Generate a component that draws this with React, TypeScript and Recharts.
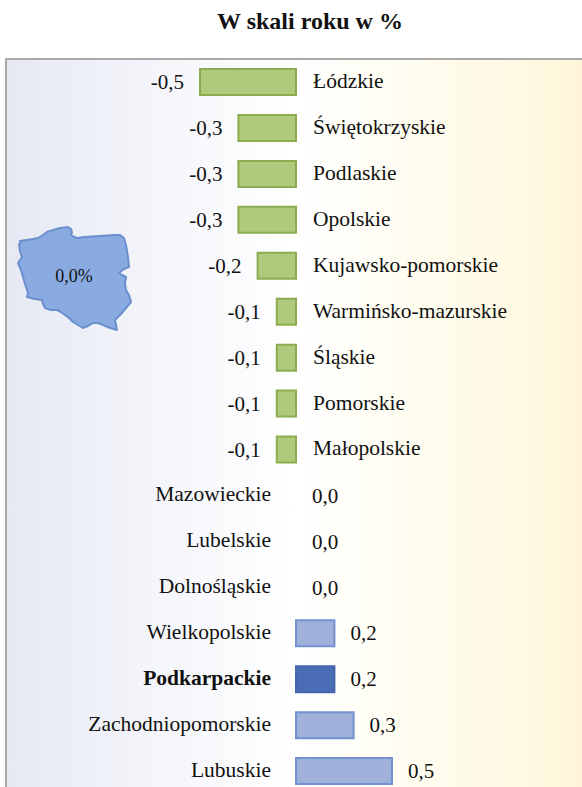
import { BarChart, Bar, Cell, XAxis, YAxis, LabelList } from "recharts";

const regions = [
  "Łódzkie",
  "Świętokrzyskie",
  "Podlaskie",
  "Opolskie",
  "Kujawsko-pomorskie",
  "Warmińsko-mazurskie",
  "Śląskie",
  "Pomorskie",
  "Małopolskie",
  "Mazowieckie",
  "Lubelskie",
  "Dolnośląskie",
  "Wielkopolskie",
  "Podkarpackie",
  "Zachodniopomorskie",
  "Lubuskie",
];
const changes = [
  -0.5, -0.3, -0.3, -0.3, -0.2, -0.1, -0.1, -0.1, -0.1, 0, 0, 0, 0.2, 0.2, 0.3,
  0.5,
];
const highlighted = "Podkarpackie";
const nationalChange = "0,0%";

const data = regions.map((name, i) => ({ name, value: changes[i] }));

const FONT = '"Liberation Serif", "Times New Roman", serif';

// Outline of the country, decoration only (not data)
const POLAND_OUTLINE =
  "M19 244 L21 242 L20 241 L33 239 L38 238 L43 235 L47 232 L53 230 L60 228 L68 227 L71 229 L72 232 L71 235 L74 237 L78 238 L84 237 L100 236 L115 235 L120 235 L124 238 L126 245 L128 257 L129 267 L124 269 L119 273 L122 275 L126 277 L125 283 L126 290 L129 295 L131 302 L126 308 L121 314 L115 320 L116 325 L117 330 L110 328 L103 325 L98 323 L93 323 L88 326 L83 328 L78 325 L73 322 L69 318 L65 315 L61 312 L57 310 L51 310 L45 308 L43 304 L42 300 L35 299 L27 297 L28 293 L27 290 L25 284 L23 277 L21 270 L18 263 L20 260 L22 257 L20 251 Z";

const fmt = (v: number) => v.toFixed(1).replace(".", ",");

function RegionTick({ y, payload, index }: any) {
  const value = changes[index];
  const negative = value < 0;
  const bold = payload.value === highlighted;
  return (
    <g>
      <text
        x={negative ? 313 : 271}
        y={y}
        dy={6}
        textAnchor={negative ? "start" : "end"}
        fontFamily={FONT}
        fontSize={21.5}
        fontWeight={bold ? 700 : 400}
        fill="#111"
      >
        {payload.value}
      </text>
      {/* zero rows have no bar, so LabelList skips them */}
      {value === 0 && (
        <text x={312} y={y} dy={8} fontFamily={FONT} fontSize={21} fill="#111">
          {fmt(value)}
        </text>
      )}
    </g>
  );
}

function ValueLabel({ x, y, width, height, value }: any) {
  const v = Number(value);
  const left = Math.min(x, x + width);
  const right = Math.max(x, x + width);
  return (
    <text
      x={v < 0 ? left - 16 : right + 16}
      y={y + height / 2}
      dy={7}
      textAnchor={v < 0 ? "end" : "start"}
      fontFamily={FONT}
      fontSize={21}
      fill="#111"
    >
      {fmt(v)}
    </text>
  );
}

export default function App() {
  return (
    <div
      style={{
        position: "absolute",
        left: 0,
        top: 0,
        width: 582,
        height: 787,
        overflow: "hidden",
        background: "#fff",
      }}
    >
      <div
        style={{
          position: "absolute",
          left: 0,
          top: 8,
          width: 620,
          textAlign: "center",
          fontFamily: FONT,
          fontSize: 24,
          fontWeight: 700,
          lineHeight: "26px",
          color: "#111",
        }}
      >
        W skali roku w %
      </div>
      <div
        style={{
          position: "absolute",
          left: 5,
          top: 58,
          width: 577,
          height: 729,
          boxSizing: "border-box",
          borderTop: "2px solid #a9a9a9",
          borderLeft: "2px solid #a9a9a9",
          background:
            "linear-gradient(90deg, #e6e8f4 0%, #f4f5fa 25%, #ffffff 50%, #fffdf1 70%, #fff6da 100%)",
        }}
      />
      <svg
        width={582}
        height={787}
        style={{ position: "absolute", left: 0, top: 0 }}
      >
        <path
          d={POLAND_OUTLINE}
          fill="#8aabe2"
          stroke="#6a8fcd"
          strokeWidth={2}
          strokeLinejoin="round"
        />
        <text
          x={74}
          y={282}
          textAnchor="middle"
          fontFamily={FONT}
          fontSize={18}
          fill="#111"
        >
          {nationalChange}
        </text>
      </svg>
      <div style={{ position: "absolute", left: 0, top: 0 }}>
        <BarChart
          layout="vertical"
          width={582}
          height={795}
          data={data}
          margin={{ top: 59, right: 94, bottom: 1, left: 103 }}
        >
          <XAxis type="number" domain={[-1, 1]} hide />
          <YAxis
            type="category"
            dataKey="name"
            width={1}
            axisLine={false}
            tickLine={false}
            interval={0}
            tick={RegionTick}
          />
          <Bar dataKey="value" barSize={26} isAnimationActive={false}>
            {data.map((d) => (
              <Cell
                key={d.name}
                fill={
                  d.value < 0
                    ? "#afca7c"
                    : d.name === highlighted
                      ? "#4a6cb4"
                      : "#9fb1da"
                }
                stroke={
                  d.value < 0
                    ? "#8bad4f"
                    : d.name === highlighted
                      ? "#4466ad"
                      : "#7291d0"
                }
                strokeWidth={2}
              />
            ))}
            <LabelList dataKey="value" content={ValueLabel} />
          </Bar>
        </BarChart>
      </div>
    </div>
  );
}
